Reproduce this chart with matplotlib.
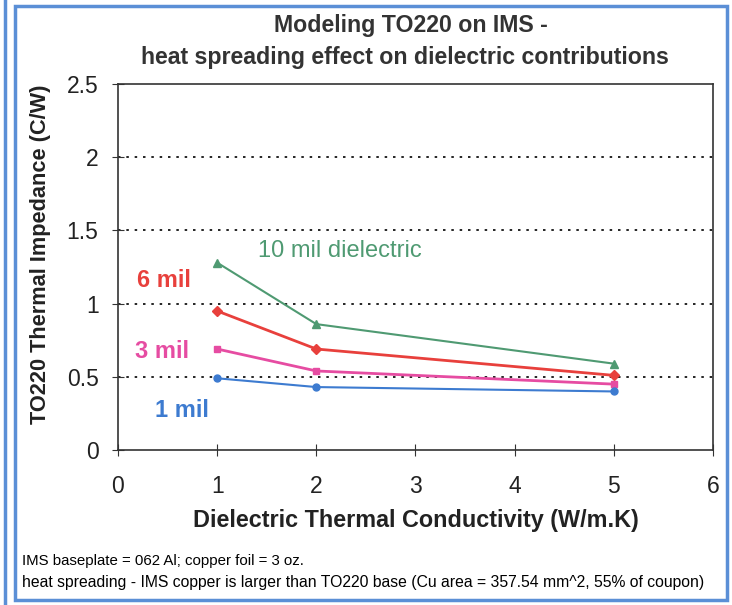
import matplotlib.pyplot as plt
from matplotlib.patches import Rectangle
from matplotlib.lines import Line2D

plt.rcParams['font.family'] = ['Liberation Sans', 'DejaVu Sans']

conductivity = [1, 2, 5]
mil10 = [1.28, 0.86, 0.59]
mil6 = [0.95, 0.69, 0.51]
mil3 = [0.69, 0.54, 0.45]
mil1 = [0.49, 0.43, 0.40]

fig = plt.figure(figsize=(7.32, 6.05), dpi=100)
ax = fig.add_axes([0.1612, 0.2562, 0.8128, 0.6048])

ax.plot(conductivity, mil10, color='#4f9a72', marker='^', ms=6, lw=1.5)
ax.plot(conductivity, mil6, color='#e8403c', marker='D', ms=5, lw=2)
ax.plot(conductivity, mil3, color='#e64ca2', marker='s', ms=5, lw=2)
ax.plot(conductivity, mil1, color='#3d7bd0', marker='o', ms=5, lw=1.5)

ax.set_xlim(0, 6)
ax.set_ylim(0, 2.5)
ax.set_xticks(range(7))
ax.set_yticks([0, 0.5, 1, 1.5, 2, 2.5])
ax.set_yticklabels(['0', '0.5', '1', '1.5', '2', '2.5'])
ax.tick_params(direction='inout', length=8, labelsize=16.5, color='#333333', labelcolor='#222222')
ax.tick_params(axis='y', pad=10)
ax.tick_params(axis='x', pad=14)
for y in [0.5, 1, 1.5, 2]:
    ax.axhline(y, color='black', ls=(0, (1.5, 3.5)), lw=1.2, zorder=0)
for s in ax.spines.values():
    s.set_linewidth(1.2)
    s.set_color('#333333')

ax.text(1.41, 1.36, '10 mil dielectric', color='#4f9a72', fontsize=17, va='center')
ax.text(0.19, 1.16, '6 mil', color='#e8403c', fontsize=17, fontweight='bold', va='center')
ax.text(0.17, 0.67, '3 mil', color='#e64ca2', fontsize=17, fontweight='bold', va='center')
ax.text(0.37, 0.27, '1 mil', color='#3d7bd0', fontsize=17, fontweight='bold', va='center')

ax.set_xlabel('Dielectric Thermal Conductivity (W/m.K)', fontsize=16.8, fontweight='bold', color='#222222', labelpad=8)
ax.set_ylabel('TO220 Thermal Impedance (C/W)', fontsize=15.7, fontweight='bold', color='#222222')
ax.yaxis.set_label_coords(-0.112, 0.535)

fig.text(0.561, 0.958, 'Modeling TO220 on IMS -', ha='center', va='center', fontsize=16.7, fontweight='bold', color='#333333')
fig.text(0.553, 0.905, 'heat spreading effect on dielectric contributions', ha='center', va='center', fontsize=16.7, fontweight='bold', color='#333333')

fig.text(0.03, 0.073, 'IMS baseplate = 062 Al; copper foil = 3 oz.', fontsize=10.8, va='center')
fig.text(0.03, 0.038, 'heat spreading - IMS copper is larger than TO220 base (Cu area = 357.54 mm^2, 55% of coupon)',
         fontsize=11.3, va='center')

fig.patches.append(Rectangle((15 / 732, 5 / 605), 712 / 732, 594 / 605, transform=fig.transFigure,
                             fill=False, edgecolor='#5b8fd6', lw=2.5))
fig.lines.append(Line2D([5 / 732, 5 / 732], [0, 1], transform=fig.transFigure, color='#5b8fd6', lw=2.5))

fig.savefig('out.png', dpi=100)
